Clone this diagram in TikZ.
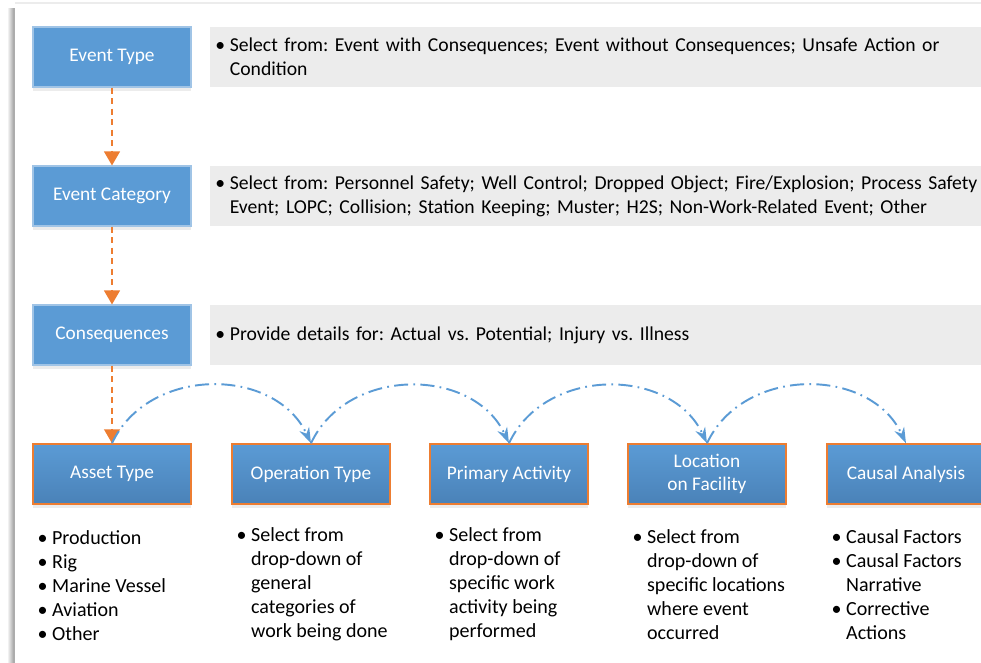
\documentclass[tikz,border=0pt]{standalone}
\usepackage{fontspec}
\setmainfont{Carlito}
\usetikzlibrary{positioning,arrows.meta,shadows}
\definecolor{boxblue}{RGB}{91,155,213}
\definecolor{boxdark}{RGB}{74,130,184}
\definecolor{edgeblue}{RGB}{160,196,230}
\definecolor{flowline}{RGB}{237,125,49}
\definecolor{notegray}{RGB}{236,236,236}
\newcommand{\bitem}{\makebox[0.29cm][l]{\textbullet}}
\newcommand{\bskip}{\hspace*{0.29cm}}
\frenchspacing

\begin{document}
\begin{tikzpicture}[x=0.02cm,y=-0.02cm,
  basebox/.style={minimum width=3.16cm, minimum height=1.2cm, inner sep=2pt,
    align=center, text=white, font=\fontsize{11}{13}\selectfont},
  eventbox/.style={basebox, fill=boxblue, draw=edgeblue, line width=0.6pt,
    drop shadow={shadow xshift=0pt, shadow yshift=-2pt, opacity=0.15, fill=gray}},
  stagebox/.style={basebox, top color=boxblue, bottom color=boxdark,
    draw=flowline, line width=0.8pt,
    drop shadow={shadow xshift=0pt, shadow yshift=-2pt, opacity=0.15, fill=gray}},
  notebox/.style={anchor=west, fill=notegray, minimum width=16.4cm,
    minimum height=1.2cm, text width=16.2cm, inner xsep=0.08cm,
    align=left, font=\fontsize{11.2}{13.65}\selectfont},
  listtext/.style={align=left, inner sep=0pt, font=\fontsize{11.4}{13.65}\selectfont},
  downflow/.style={flowline, line width=1.1pt, dash pattern=on 3.5pt off 2.5pt,
    -{Triangle[width=9pt,length=8pt]}},
  nextflow/.style={boxblue, line width=1.1pt,
    dash pattern=on 8pt off 3pt on 1pt off 3pt,
    -{Stealth[width=6pt,length=9pt]}}
]
\useasboundingbox (0,0) rectangle (981,663);

% page edge
\shade[left color=white, right color=gray!65] (7,8) rectangle (13,663);
\fill[gray!65] (13,8) rectangle (15,663);
\draw[gray!15, line width=0.6pt] (15,3) -- (981,3);

% event column
\node[eventbox] (evtype) at (112,57) {Event Type};
\node[eventbox] (evcat) at (112,196) {Event Category};
\node[eventbox] (conseq) at (112,335) {Consequences};

\node[notebox] (typenote) at (210,57) {\bitem Select from: Event with Consequences; Event without Consequences; Unsafe Action or\\
  \bskip Condition};
\node[notebox] (catnote) at (210,196) {\bitem Select from: Personnel Safety; Well Control; Dropped Object; Fire/Explosion; Process Safety\\
  \bskip Event; LOPC; Collision; Station Keeping; Muster; H2S; Non-Work-Related Event; Other};
\node[notebox] (consnote) at (210,335) {\bitem Provide details for: Actual vs. Potential; Injury vs. Illness};

% stage row
\node[stagebox] (asset) at (112,474) {Asset Type};
\node[stagebox] (optype) at (311,474) {Operation Type};
\node[stagebox] (primact) at (509,474) {Primary Activity};
\node[stagebox] (locfac) at (707,474) {Location\\on Facility};
\node[stagebox] (causal) at (906,474) {Causal Analysis};

\node[listtext, below right=0.52cm and 0.1cm of asset.south west] (assetlist)
  {\bitem Production\\ \bitem Rig\\ \bitem Marine Vessel\\ \bitem Aviation\\ \bitem Other};
\node[listtext, below right=0.46cm and 0.1cm of optype.south west] (oplist)
  {\bitem Select from\\ \bskip drop-down of\\ \bskip general\\ \bskip categories of\\ \bskip work being done};
\node[listtext, below right=0.46cm and 0.1cm of primact.south west] (actlist)
  {\bitem Select from\\ \bskip drop-down of\\ \bskip specific work\\ \bskip activity being\\ \bskip performed};
\node[listtext, below right=0.5cm and 0.1cm of locfac.south west] (loclist)
  {\bitem Select from\\ \bskip drop-down of\\ \bskip specific locations\\ \bskip where event\\ \bskip occurred};
\node[listtext, below right=0.5cm and 0.1cm of causal.south west] (causlist)
  {\bitem Causal Factors\\ \bitem Causal Factors\\ \bskip Narrative\\ \bitem Corrective\\ \bskip Actions};

% connectors
\draw[downflow] (evtype) -- (evcat);
\draw[downflow] (evcat) -- (conseq);
\draw[downflow] (conseq) -- (asset);

\draw[nextflow] (asset.north) to[out=65,in=115,looseness=1.1] (optype.north);
\draw[nextflow] (optype.north) to[out=65,in=115,looseness=1.1] (primact.north);
\draw[nextflow] (primact.north) to[out=65,in=115,looseness=1.1] (locfac.north);
\draw[nextflow] (locfac.north) to[out=65,in=115,looseness=1.1] (causal.north);
\end{tikzpicture}
\end{document}
